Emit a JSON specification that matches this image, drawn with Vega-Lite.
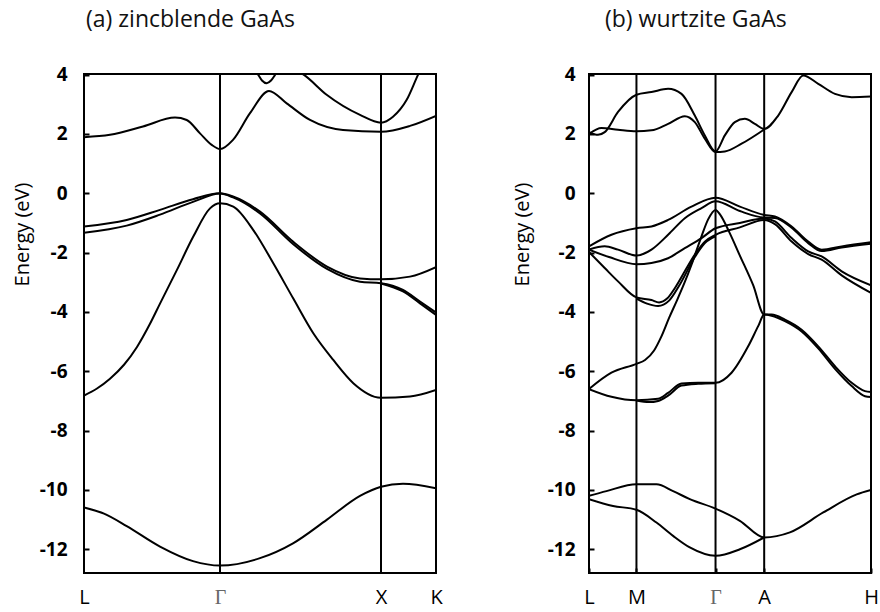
{
  "$schema": "https://vega.github.io/schema/vega-lite/v6.json",
  "background": "white",
  "padding": {"left": 11, "top": 7, "right": 5, "bottom": 0},
  "spacing": 153,
  "bounds": "flush",
  "config": {
    "font": "Open Sans",
    "view": {"stroke": "black", "strokeWidth": 2},
    "axis": {"grid": false, "domain": false, "labelColor": "black", "titleColor": "black", "tickColor": "black"},
    "title": {"fontSize": 23, "fontWeight": "normal", "color": "#111", "font": "Open Sans"}
  },
  "datasets": {
    "zb": [
      {"band": "b1", "k": 0, "E": -10.59}, {"band": "b1", "k": 20, "E": -10.8}, {"band": "b1", "k": 42.7, "E": -11.22}, {"band": "b1", "k": 76, "E": -11.91}, {"band": "b1", "k": 109, "E": -12.4}, {"band": "b1", "k": 136, "E": -12.55}, {"band": "b1", "k": 176, "E": -12.3}, {"band": "b1", "k": 209, "E": -11.8}, {"band": "b1", "k": 243, "E": -11.0}, {"band": "b1", "k": 276, "E": -10.2}, {"band": "b1", "k": 297, "E": -9.89}, {"band": "b1", "k": 319, "E": -9.79}, {"band": "b1", "k": 352, "E": -9.94},
      {"band": "b2", "k": 0, "E": -6.82}, {"band": "b2", "k": 13, "E": -6.58}, {"band": "b2", "k": 26, "E": -6.25}, {"band": "b2", "k": 40, "E": -5.78}, {"band": "b2", "k": 53, "E": -5.18}, {"band": "b2", "k": 66, "E": -4.4}, {"band": "b2", "k": 76, "E": -3.72}, {"band": "b2", "k": 92.7, "E": -2.6}, {"band": "b2", "k": 109.3, "E": -1.46}, {"band": "b2", "k": 126, "E": -0.51}, {"band": "b2", "k": 136, "E": -0.34}, {"band": "b2", "k": 149.3, "E": -0.45}, {"band": "b2", "k": 169.3, "E": -1.24}, {"band": "b2", "k": 189.3, "E": -2.36}, {"band": "b2", "k": 209.3, "E": -3.55}, {"band": "b2", "k": 229.3, "E": -4.72}, {"band": "b2", "k": 249.3, "E": -5.62}, {"band": "b2", "k": 269.3, "E": -6.4}, {"band": "b2", "k": 296.7, "E": -6.89}, {"band": "b2", "k": 326, "E": -6.85}, {"band": "b2", "k": 352, "E": -6.63},
      {"band": "b3", "k": 0, "E": -1.12}, {"band": "b3", "k": 42.7, "E": -0.9}, {"band": "b3", "k": 76, "E": -0.56}, {"band": "b3", "k": 109, "E": -0.2}, {"band": "b3", "k": 136, "E": 0}, {"band": "b3", "k": 149, "E": -0.11}, {"band": "b3", "k": 176, "E": -0.62}, {"band": "b3", "k": 209, "E": -1.63}, {"band": "b3", "k": 243, "E": -2.47}, {"band": "b3", "k": 276, "E": -2.87}, {"band": "b3", "k": 297, "E": -2.9}, {"band": "b3", "k": 326, "E": -2.81}, {"band": "b3", "k": 352, "E": -2.49},
      {"band": "b4", "k": 0, "E": -1.33}, {"band": "b4", "k": 42.7, "E": -1.09}, {"band": "b4", "k": 76, "E": -0.72}, {"band": "b4", "k": 109, "E": -0.29}, {"band": "b4", "k": 136, "E": -0.01}, {"band": "b4", "k": 149, "E": -0.14}, {"band": "b4", "k": 176, "E": -0.68}, {"band": "b4", "k": 209, "E": -1.71}, {"band": "b4", "k": 243, "E": -2.55}, {"band": "b4", "k": 276, "E": -2.98}, {"band": "b4", "k": 297, "E": -3.03}, {"band": "b4", "k": 319, "E": -3.26}, {"band": "b4", "k": 336, "E": -3.65}, {"band": "b4", "k": 352, "E": -4.02},
      {"band": "b4b", "k": 297, "E": -3.04}, {"band": "b4b", "k": 319, "E": -3.31}, {"band": "b4b", "k": 336, "E": -3.71}, {"band": "b4b", "k": 352, "E": -4.1},
      {"band": "b5", "k": 0, "E": 1.89}, {"band": "b5", "k": 26, "E": 1.97}, {"band": "b5", "k": 59, "E": 2.25}, {"band": "b5", "k": 91, "E": 2.55}, {"band": "b5", "k": 102.7, "E": 2.47}, {"band": "b5", "k": 116, "E": 2.02}, {"band": "b5", "k": 127.7, "E": 1.63}, {"band": "b5", "k": 136, "E": 1.49}, {"band": "b5", "k": 149, "E": 1.8}, {"band": "b5", "k": 166, "E": 2.7}, {"band": "b5", "k": 185, "E": 3.45}, {"band": "b5", "k": 202.7, "E": 3.03}, {"band": "b5", "k": 226, "E": 2.47}, {"band": "b5", "k": 259, "E": 2.13}, {"band": "b5", "k": 297, "E": 2.07}, {"band": "b5", "k": 326, "E": 2.27}, {"band": "b5", "k": 352, "E": 2.61},
      {"band": "b6", "k": 170, "E": 4.2}, {"band": "b6", "k": 174.3, "E": 3.99}, {"band": "b6", "k": 178, "E": 3.8}, {"band": "b6", "k": 182.7, "E": 3.71}, {"band": "b6", "k": 187, "E": 3.8}, {"band": "b6", "k": 191, "E": 3.99}, {"band": "b6", "k": 195, "E": 4.2},
      {"band": "b7", "k": 214, "E": 4.12}, {"band": "b7", "k": 220, "E": 3.99}, {"band": "b7", "k": 243, "E": 3.31}, {"band": "b7", "k": 276, "E": 2.64}, {"band": "b7", "k": 297, "E": 2.38}, {"band": "b7", "k": 309, "E": 2.58}, {"band": "b7", "k": 322.7, "E": 3.15}, {"band": "b7", "k": 334, "E": 3.99}, {"band": "b7", "k": 337, "E": 4.2}
    ],
    "zbLines": [{"k": 136}, {"k": 297}],
    "wz": [
      {"band": "w1", "k": 0, "E": -10.2}, {"band": "w1", "k": 17.4, "E": -10.04}, {"band": "w1", "k": 47.4, "E": -9.81}, {"band": "w1", "k": 67.4, "E": -9.81}, {"band": "w1", "k": 84, "E": -10.04}, {"band": "w1", "k": 100.7, "E": -10.31}, {"band": "w1", "k": 126.4, "E": -10.63}, {"band": "w1", "k": 150.7, "E": -11.04}, {"band": "w1", "k": 175, "E": -11.6}, {"band": "w1", "k": 200.7, "E": -11.43}, {"band": "w1", "k": 234, "E": -10.76}, {"band": "w1", "k": 267.4, "E": -10.15}, {"band": "w1", "k": 281.7, "E": -10.0},
      {"band": "w2", "k": 0, "E": -10.31}, {"band": "w2", "k": 24, "E": -10.54}, {"band": "w2", "k": 47.4, "E": -10.67}, {"band": "w2", "k": 67.4, "E": -11.1}, {"band": "w2", "k": 84, "E": -11.55}, {"band": "w2", "k": 100.7, "E": -11.94}, {"band": "w2", "k": 126.4, "E": -12.22}, {"band": "w2", "k": 150.7, "E": -12.0}, {"band": "w2", "k": 175, "E": -11.6},
      {"band": "w3", "k": 0, "E": -6.6}, {"band": "w3", "k": 22.4, "E": -6.05}, {"band": "w3", "k": 47.4, "E": -5.75}, {"band": "w3", "k": 56, "E": -5.62}, {"band": "w3", "k": 65, "E": -5.3}, {"band": "w3", "k": 72, "E": -4.85}, {"band": "w3", "k": 80, "E": -4.2}, {"band": "w3", "k": 88, "E": -3.6}, {"band": "w3", "k": 95, "E": -3.05}, {"band": "w3", "k": 102.4, "E": -2.41}, {"band": "w3", "k": 112.4, "E": -1.45}, {"band": "w3", "k": 119, "E": -0.88}, {"band": "w3", "k": 126.4, "E": -0.56}, {"band": "w3", "k": 131, "E": -0.72}, {"band": "w3", "k": 140, "E": -1.3}, {"band": "w3", "k": 150.7, "E": -2.1}, {"band": "w3", "k": 164, "E": -3.1}, {"band": "w3", "k": 175, "E": -4.09}, {"band": "w3", "k": 182.4, "E": -4.09}, {"band": "w3", "k": 195.7, "E": -4.26}, {"band": "w3", "k": 212.4, "E": -4.6}, {"band": "w3", "k": 229, "E": -5.16}, {"band": "w3", "k": 245.7, "E": -5.83}, {"band": "w3", "k": 262.4, "E": -6.39}, {"band": "w3", "k": 275.7, "E": -6.67}, {"band": "w3", "k": 281.7, "E": -6.7},
      {"band": "w4", "k": 0, "E": -6.6}, {"band": "w4", "k": 22.4, "E": -6.86}, {"band": "w4", "k": 47.4, "E": -6.98}, {"band": "w4", "k": 69, "E": -6.93}, {"band": "w4", "k": 79, "E": -6.73}, {"band": "w4", "k": 92.4, "E": -6.41}, {"band": "w4", "k": 109, "E": -6.39}, {"band": "w4", "k": 126.4, "E": -6.39}, {"band": "w4", "k": 142.4, "E": -6.05}, {"band": "w4", "k": 159, "E": -5.16}, {"band": "w4", "k": 169, "E": -4.48}, {"band": "w4", "k": 175, "E": -4.09}, {"band": "w4", "k": 182.4, "E": -4.13}, {"band": "w4", "k": 195.7, "E": -4.31}, {"band": "w4", "k": 212.4, "E": -4.66}, {"band": "w4", "k": 229, "E": -5.23}, {"band": "w4", "k": 245.7, "E": -5.92}, {"band": "w4", "k": 262.4, "E": -6.5}, {"band": "w4", "k": 275.7, "E": -6.84}, {"band": "w4", "k": 281.7, "E": -6.87},
      {"band": "w4b", "k": 47.4, "E": -6.99}, {"band": "w4b", "k": 60, "E": -7.04}, {"band": "w4b", "k": 69, "E": -7.0}, {"band": "w4b", "k": 79, "E": -6.82}, {"band": "w4b", "k": 92.4, "E": -6.48}, {"band": "w4b", "k": 109, "E": -6.42}, {"band": "w4b", "k": 126.4, "E": -6.4},
      {"band": "va", "k": 0, "E": -1.79}, {"band": "va", "k": 22.4, "E": -1.4}, {"band": "va", "k": 47.4, "E": -1.18}, {"band": "va", "k": 62.4, "E": -1.12}, {"band": "va", "k": 79, "E": -0.9}, {"band": "va", "k": 102.4, "E": -0.45}, {"band": "va", "k": 126.4, "E": -0.15}, {"band": "va", "k": 150.7, "E": -0.45}, {"band": "va", "k": 175, "E": -0.73}, {"band": "va", "k": 185.7, "E": -0.78}, {"band": "va", "k": 202.4, "E": -1.12}, {"band": "va", "k": 219, "E": -1.63}, {"band": "va", "k": 232.4, "E": -1.9}, {"band": "va", "k": 252.4, "E": -1.79}, {"band": "va", "k": 281.7, "E": -1.65},
      {"band": "vb", "k": 0, "E": -1.9}, {"band": "vb", "k": 15.7, "E": -1.79}, {"band": "vb", "k": 29, "E": -1.9}, {"band": "vb", "k": 47.4, "E": -2.1}, {"band": "vb", "k": 62.4, "E": -1.9}, {"band": "vb", "k": 79, "E": -1.4}, {"band": "vb", "k": 95.7, "E": -0.84}, {"band": "vb", "k": 112.4, "E": -0.5}, {"band": "vb", "k": 126.4, "E": -0.27}, {"band": "vb", "k": 150.7, "E": -0.6}, {"band": "vb", "k": 175, "E": -0.82}, {"band": "vb", "k": 185.7, "E": -0.83}, {"band": "vb", "k": 202.4, "E": -1.16}, {"band": "vb", "k": 219, "E": -1.68}, {"band": "vb", "k": 232.4, "E": -1.95}, {"band": "vb", "k": 252.4, "E": -1.83}, {"band": "vb", "k": 281.7, "E": -1.7},
      {"band": "vc", "k": 0, "E": -1.9}, {"band": "vc", "k": 20, "E": -2.15}, {"band": "vc", "k": 47.4, "E": -2.39}, {"band": "vc", "k": 62.4, "E": -2.35}, {"band": "vc", "k": 79, "E": -2.19}, {"band": "vc", "k": 95.7, "E": -1.85}, {"band": "vc", "k": 112.4, "E": -1.51}, {"band": "vc", "k": 126.4, "E": -1.18}, {"band": "vc", "k": 150.7, "E": -1.0}, {"band": "vc", "k": 175, "E": -0.85}, {"band": "vc", "k": 185.7, "E": -0.95}, {"band": "vc", "k": 202.4, "E": -1.51}, {"band": "vc", "k": 219, "E": -1.96}, {"band": "vc", "k": 232.4, "E": -2.13}, {"band": "vc", "k": 252.4, "E": -2.63}, {"band": "vc", "k": 281.7, "E": -3.1},
      {"band": "vd", "k": 0, "E": -1.98}, {"band": "vd", "k": 15.7, "E": -2.52}, {"band": "vd", "k": 29, "E": -2.97}, {"band": "vd", "k": 47.4, "E": -3.51}, {"band": "vd", "k": 62.4, "E": -3.6}, {"band": "vd", "k": 70, "E": -3.68}, {"band": "vd", "k": 78, "E": -3.55}, {"band": "vd", "k": 85.7, "E": -3.2}, {"band": "vd", "k": 95.7, "E": -2.63}, {"band": "vd", "k": 105.7, "E": -2.07}, {"band": "vd", "k": 115.7, "E": -1.63}, {"band": "vd", "k": 126.4, "E": -1.4}, {"band": "vd", "k": 150.7, "E": -1.15}, {"band": "vd", "k": 175, "E": -0.9}, {"band": "vd", "k": 185.7, "E": -1.04}, {"band": "vd", "k": 202.4, "E": -1.63}, {"band": "vd", "k": 219, "E": -2.05}, {"band": "vd", "k": 232.4, "E": -2.24}, {"band": "vd", "k": 252.4, "E": -2.77}, {"band": "vd", "k": 281.7, "E": -3.36},
      {"band": "vd2", "k": 47.4, "E": -3.55}, {"band": "vd2", "k": 58, "E": -3.72}, {"band": "vd2", "k": 69, "E": -3.8}, {"band": "vd2", "k": 80, "E": -3.62}, {"band": "vd2", "k": 90, "E": -3.12}, {"band": "vd2", "k": 105.7, "E": -2.15}, {"band": "vd2", "k": 115.7, "E": -1.68}, {"band": "vd2", "k": 126.4, "E": -1.45},
      {"band": "c1", "k": 0, "E": 2.06}, {"band": "c1", "k": 9, "E": 1.97}, {"band": "c1", "k": 15.7, "E": 2.06}, {"band": "c1", "k": 29, "E": 2.74}, {"band": "c1", "k": 47.4, "E": 3.32}, {"band": "c1", "k": 62.4, "E": 3.41}, {"band": "c1", "k": 79, "E": 3.52}, {"band": "c1", "k": 92.4, "E": 3.35}, {"band": "c1", "k": 105.7, "E": 2.62}, {"band": "c1", "k": 115.7, "E": 1.95}, {"band": "c1", "k": 126.4, "E": 1.41}, {"band": "c1", "k": 135.7, "E": 1.95}, {"band": "c1", "k": 145.7, "E": 2.4}, {"band": "c1", "k": 155.7, "E": 2.51}, {"band": "c1", "k": 165.7, "E": 2.34}, {"band": "c1", "k": 175, "E": 2.17}, {"band": "c1", "k": 189, "E": 2.62}, {"band": "c1", "k": 202.4, "E": 3.41}, {"band": "c1", "k": 214, "E": 3.97}, {"band": "c1", "k": 229, "E": 3.69}, {"band": "c1", "k": 245.7, "E": 3.35}, {"band": "c1", "k": 262.4, "E": 3.24}, {"band": "c1", "k": 281.7, "E": 3.26},
      {"band": "c2", "k": 0, "E": 2.0}, {"band": "c2", "k": 12.4, "E": 2.2}, {"band": "c2", "k": 29, "E": 2.14}, {"band": "c2", "k": 47.4, "E": 2.09}, {"band": "c2", "k": 62.4, "E": 2.12}, {"band": "c2", "k": 79, "E": 2.34}, {"band": "c2", "k": 95.7, "E": 2.6}, {"band": "c2", "k": 105.7, "E": 2.4}, {"band": "c2", "k": 115.7, "E": 1.84}, {"band": "c2", "k": 126.4, "E": 1.39}, {"band": "c2", "k": 135.7, "E": 1.41}, {"band": "c2", "k": 152.4, "E": 1.67}, {"band": "c2", "k": 175, "E": 2.15}
    ],
    "wzLines": [{"k": 47.4}, {"k": 126.4}, {"k": 175}]
  },
  "hconcat": [
    {
      "title": {"text": "(a) zincblende GaAs", "anchor": "start", "frame": "group", "dx": 2, "offset": 16, "baseline": "alphabetic"},
      "width": 352,
      "height": 499,
      "layer": [
        {
          "data": {"name": "zb"},
          "mark": {"type": "line", "color": "black", "strokeWidth": 2, "interpolate": "monotone", "clip": true},
          "encoding": {
            "x": {"field": "k", "type": "quantitative", "scale": {"domain": [0, 352], "nice": false, "zero": false},
              "axis": {"title": null, "values": [0, 136, 297, 352], "ticks": false, "labelFlush": false, "labelOverlap": false, "labelPadding": 14, "labelFontSize": 20,
                "labelExpr": "datum.value == 0 ? 'L' : datum.value == 136 ? 'Γ' : datum.value == 297 ? 'X' : 'K'",
                "labelFont": {"condition": {"test": "datum.value == 136", "value": "Liberation Serif"}, "value": "Open Sans"},
                "labelColor": {"condition": {"test": "datum.value == 136", "value": "#666"}, "value": "black"}}},
            "y": {"field": "E", "type": "quantitative", "scale": {"domain": [-12.8, 4.02], "nice": false, "zero": false},
              "axis": {"title": "Energy (eV)", "values": [-12, -10, -8, -6, -4, -2, 0, 2, 4], "labelExpr": "datum.value < 0 ? '-' + abs(datum.value) : '' + datum.value", "tickSize": -5, "tickWidth": 2, "labelPadding": 22, "labelFontSize": 19, "labelFontWeight": "bold",
                "titleFontSize": 20, "titleFontWeight": "normal", "titleX": -62, "titleY": 160, "titleAngle": -90, "titleAlign": "center", "titleBaseline": "middle"}},
            "detail": {"field": "band"}
          }
        },
        {
          "data": {"name": "zbLines"},
          "mark": {"type": "rule", "color": "black", "strokeWidth": 2},
          "encoding": {"x": {"field": "k", "type": "quantitative"}}
        }
      ]
    },
    {
      "title": {"text": "(b) wurtzite GaAs", "anchor": "start", "frame": "group", "dx": 16, "offset": 16, "baseline": "alphabetic"},
      "width": 282,
      "height": 499,
      "layer": [
        {
          "data": {"name": "wz"},
          "mark": {"type": "line", "color": "black", "strokeWidth": 2, "interpolate": "monotone", "clip": true},
          "encoding": {
            "x": {"field": "k", "type": "quantitative", "scale": {"domain": [0, 281.7], "nice": false, "zero": false},
              "axis": {"title": null, "values": [0, 23, 47.4, 87.4, 126.4, 151.7, 175, 228.4, 281.7], "tickSize": -5, "tickWidth": 2, "labelFlush": false, "labelOverlap": false, "labelPadding": 19, "labelFontSize": 20,
                "labelExpr": "datum.value == 0 ? 'L' : datum.value == 47.4 ? 'M' : datum.value == 126.4 ? 'Γ' : datum.value == 175 ? 'A' : datum.value == 281.7 ? 'H' : ''",
                "labelFont": {"condition": {"test": "datum.value == 126.4", "value": "Liberation Serif"}, "value": "Open Sans"},
                "labelColor": {"condition": {"test": "datum.value == 126.4", "value": "#666"}, "value": "black"}}},
            "y": {"field": "E", "type": "quantitative", "scale": {"domain": [-12.8, 4.02], "nice": false, "zero": false},
              "axis": {"title": "Energy (eV)", "values": [-12, -10, -8, -6, -4, -2, 0, 2, 4], "labelExpr": "datum.value < 0 ? '-' + abs(datum.value) : '' + datum.value", "tickSize": -5, "tickWidth": 2, "labelPadding": 19, "labelFontSize": 19, "labelFontWeight": "bold",
                "titleFontSize": 20, "titleFontWeight": "normal", "titleX": -67, "titleY": 160, "titleAngle": -90, "titleAlign": "center", "titleBaseline": "middle"}},
            "detail": {"field": "band"}
          }
        },
        {
          "data": {"name": "wzLines"},
          "mark": {"type": "rule", "color": "black", "strokeWidth": 2},
          "encoding": {"x": {"field": "k", "type": "quantitative"}}
        }
      ]
    }
  ]
}
